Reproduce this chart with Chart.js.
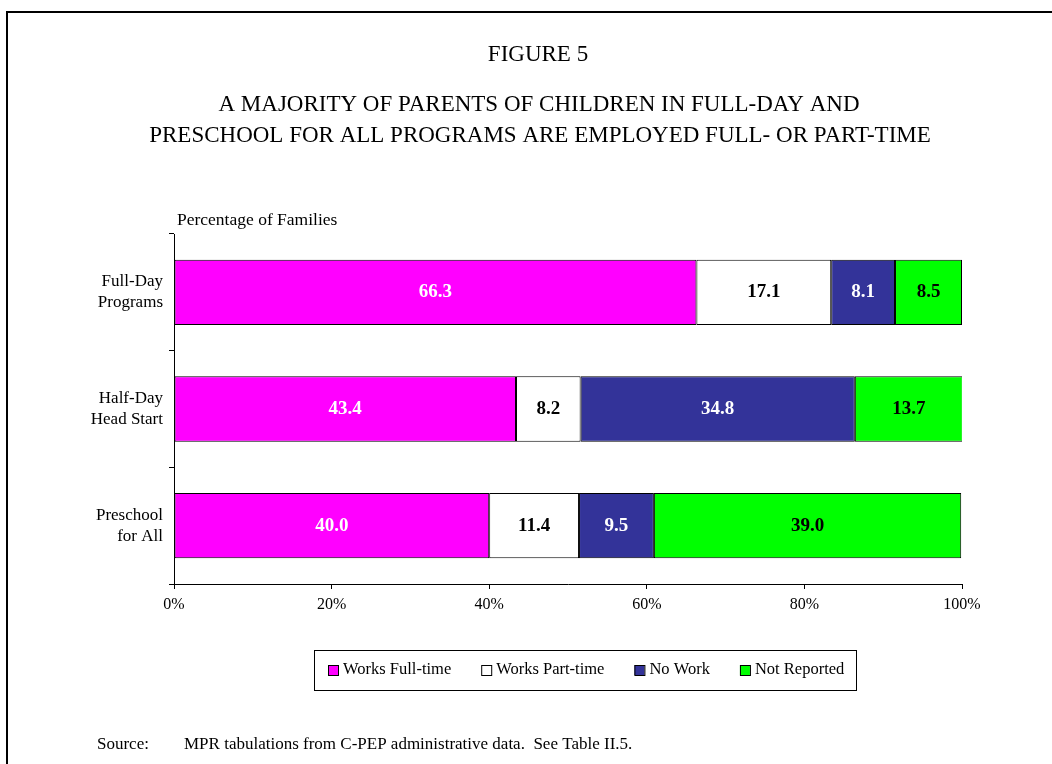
<!DOCTYPE html>
<html>
<head>
<meta charset="utf-8">
<script src="https://cdn.jsdelivr.net/npm/chart.js@4/dist/chart.umd.min.js"></script>
<style>
  html, body { margin: 0; padding: 0; background: #fff; }
  #wrap { width: 1052px; height: 764px; position: relative; }
</style>
</head>
<body>
<div id="wrap"><canvas id="chart" width="1052" height="764"></canvas></div>
<script>
// Dane
const categories = [["Full-Day", "Programs"], ["Half-Day", "Head Start"], ["Preschool", "for All"]];
const seriesNames = ["Works Full-time", "Works Part-time", "No Work", "Not Reported"];
const fullTime = [66.3, 43.4, 40.0];
const partTime = [17.1, 8.2, 11.4];
const noWork = [8.1, 34.8, 9.5];
const notReported = [8.5, 13.7, 39.0];
const xTicks = [0, 20, 40, 60, 80, 100];

const colors = ["#ff00ff", "#ffffff", "#333399", "#00ff00"];
const labelColors = ["#fff", "#000", "#fff", "#000"];
const serif = "'Liberation Serif', 'Times New Roman', serif";

// Ramka, tytuły, legenda i źródło
const decorPlugin = {
  id: "decor",
  beforeDraw(chart) {
    const c = chart.ctx;
    c.save();
    c.strokeStyle = "#000";
    c.lineWidth = 2;
    c.strokeRect(7, 12, 1100, 800);
    c.fillStyle = "#000";
    c.textAlign = "center";
    c.textBaseline = "middle";
    c.font = "23px " + serif;
    c.fillText("FIGURE 5", 538, 55);
    c.fillText("A MAJORITY OF PARENTS OF CHILDREN IN FULL-DAY AND", 539, 105);
    c.fillText("PRESCHOOL FOR ALL PROGRAMS ARE EMPLOYED FULL- OR PART-TIME", 540, 136);
    c.font = "17.5px " + serif;
    c.textAlign = "left";
    c.fillText("Percentage of Families", 177, 220);
    c.font = "17px " + serif;
    c.fillText("Source:", 97, 745);
    c.fillText("MPR tabulations from C-PEP administrative data.  See Table II.5.", 184, 745);
    c.restore();
  },
  afterDraw(chart) {
    const c = chart.ctx;
    c.save();
    // Legenda
    c.strokeStyle = "#000";
    c.lineWidth = 1;
    c.strokeRect(314.5, 650.5, 542, 40);
    c.font = "16.5px " + serif;
    c.textBaseline = "middle";
    c.textAlign = "left";
    let x = 328;
    chart.data.datasets.forEach(ds => {
      c.fillStyle = ds.backgroundColor;
      c.fillRect(x, 665, 10, 10);
      c.strokeRect(x + 0.5, 665.5, 10, 10);
      c.fillStyle = "#000";
      c.fillText(ds.label, x + 15, 670);
      x += 15 + c.measureText(ds.label).width + 30;
    });
    // Etykiety wartości
    c.font = "bold 19px " + serif;
    c.textAlign = "center";
    chart.data.datasets.forEach((ds, i) => {
      const meta = chart.getDatasetMeta(i);
      meta.data.forEach((bar, j) => {
        const p = bar.getCenterPoint();
        c.fillStyle = labelColors[i];
        c.fillText(ds.data[j].toFixed(1), p.x, p.y);
      });
    });
    c.restore();
  }
};

const datasets = [fullTime, partTime, noWork, notReported].map((data, i) => ({
  label: seriesNames[i],
  data: data,
  backgroundColor: colors[i],
  borderColor: "#000",
  borderWidth: 1,
  borderSkipped: false,
  categoryPercentage: 1,
  barPercentage: 0.56
}));

new Chart(document.getElementById("chart"), {
  type: "bar",
  data: { labels: categories, datasets },
  plugins: [decorPlugin],
  options: {
    indexAxis: "y",
    responsive: false,
    animation: false,
    layout: { padding: { top: 234, right: 90, left: 0, bottom: 0 } },
    plugins: { legend: { display: false }, tooltip: { enabled: false } },
    scales: {
      x: {
        stacked: true,
        min: 0,
        max: 100,
        afterFit: s => { s.height = 180; },
        afterBuildTicks: s => { s.ticks = xTicks.map(v => ({ value: v })); },
        border: { color: "#000", width: 1 },
        grid: { drawOnChartArea: false, tickLength: 5, color: "#000" },
        ticks: {
          color: "#000",
          padding: 6,
          font: { family: serif, size: 16 },
          callback: v => v + "%"
        }
      },
      y: {
        stacked: true,
        afterFit: s => { s.width = 174; },
        border: { color: "#000", width: 1 },
        grid: { drawOnChartArea: false, tickLength: 5, color: "#000", offset: true },
        ticks: {
          color: "#000",
          padding: 6,
          font: { family: serif, size: 17, lineHeight: 1.24 }
        }
      }
    }
  }
});
</script>
</body>
</html>
